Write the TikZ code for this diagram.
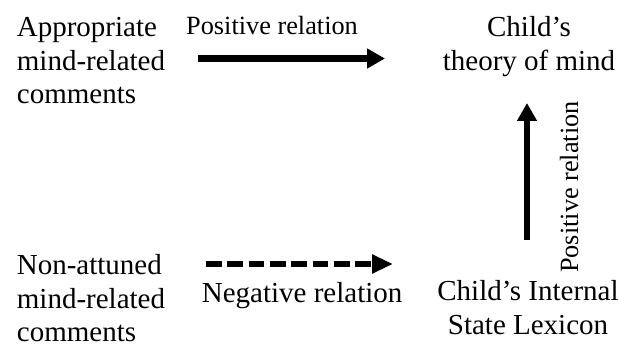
\documentclass[tikz,border=0pt]{standalone}
\usepackage{fontspec}
\setmainfont{Liberation Serif}
\usetikzlibrary{arrows.meta}
\tikzset{
  maintext/.style={inner sep=0pt, font=\fontsize{29}{33.5}\selectfont},
  lbltext/.style={inner sep=0pt, font=\fontsize{26.3}{30}\selectfont},
  neglbl/.style={inner sep=0pt, font=\fontsize{29}{33}\selectfont},
  solidarrow/.style={line width=6.6pt, -{Triangle[length=18pt,width=19pt]}},
  dasharrow/.style={line width=6.8pt, dash pattern=on 15.8pt off 5.5pt, -{Triangle[length=21pt,width=18pt]}},
}
\begin{document}
\begin{tikzpicture}[x=1pt,y=1pt]
\useasboundingbox (0,-347) rectangle (619,0);
% left texts (base anchor = baseline of last line)
\node[maintext, anchor=base west, align=left] (appr) at (16.7,-104) {Appropriate\\mind-related\\comments};
\node[maintext, anchor=base west, align=left] (nonatt) at (16.7,-342) {Non-attuned\\mind-related\\comments};
% right texts
\node[maintext, anchor=base, align=center] (tom) at (529,-70.5) {Child’s\\theory of mind};
\node[maintext, anchor=base, align=center] (isl) at (528,-334.5) {Child’s Internal\\State Lexicon};
% arrows
\coordinate (a1s) at (198,-58.5);
\coordinate (a1e) at (385,-58.5);
\draw[solidarrow] (a1s) -- (a1e);
\coordinate (a2s) at (206,-264);
\coordinate (a2e) at (393,-264);
\draw[dasharrow] (a2s) -- (a2e);
\coordinate (a3s) at (527,-240);
\coordinate (a3e) at (527,-103);
\draw[solidarrow] (a3s) -- (a3e);
% labels
\node[lbltext, anchor=base west] (plbl) at (186,-35) {Positive relation};
\node[neglbl, anchor=base west] (nlbl) at (201.7,-303) {Negative relation};
\node[lbltext, rotate=90, anchor=base] (vlbl) at (578,-187) {Positive relation};
\end{tikzpicture}
\end{document}
